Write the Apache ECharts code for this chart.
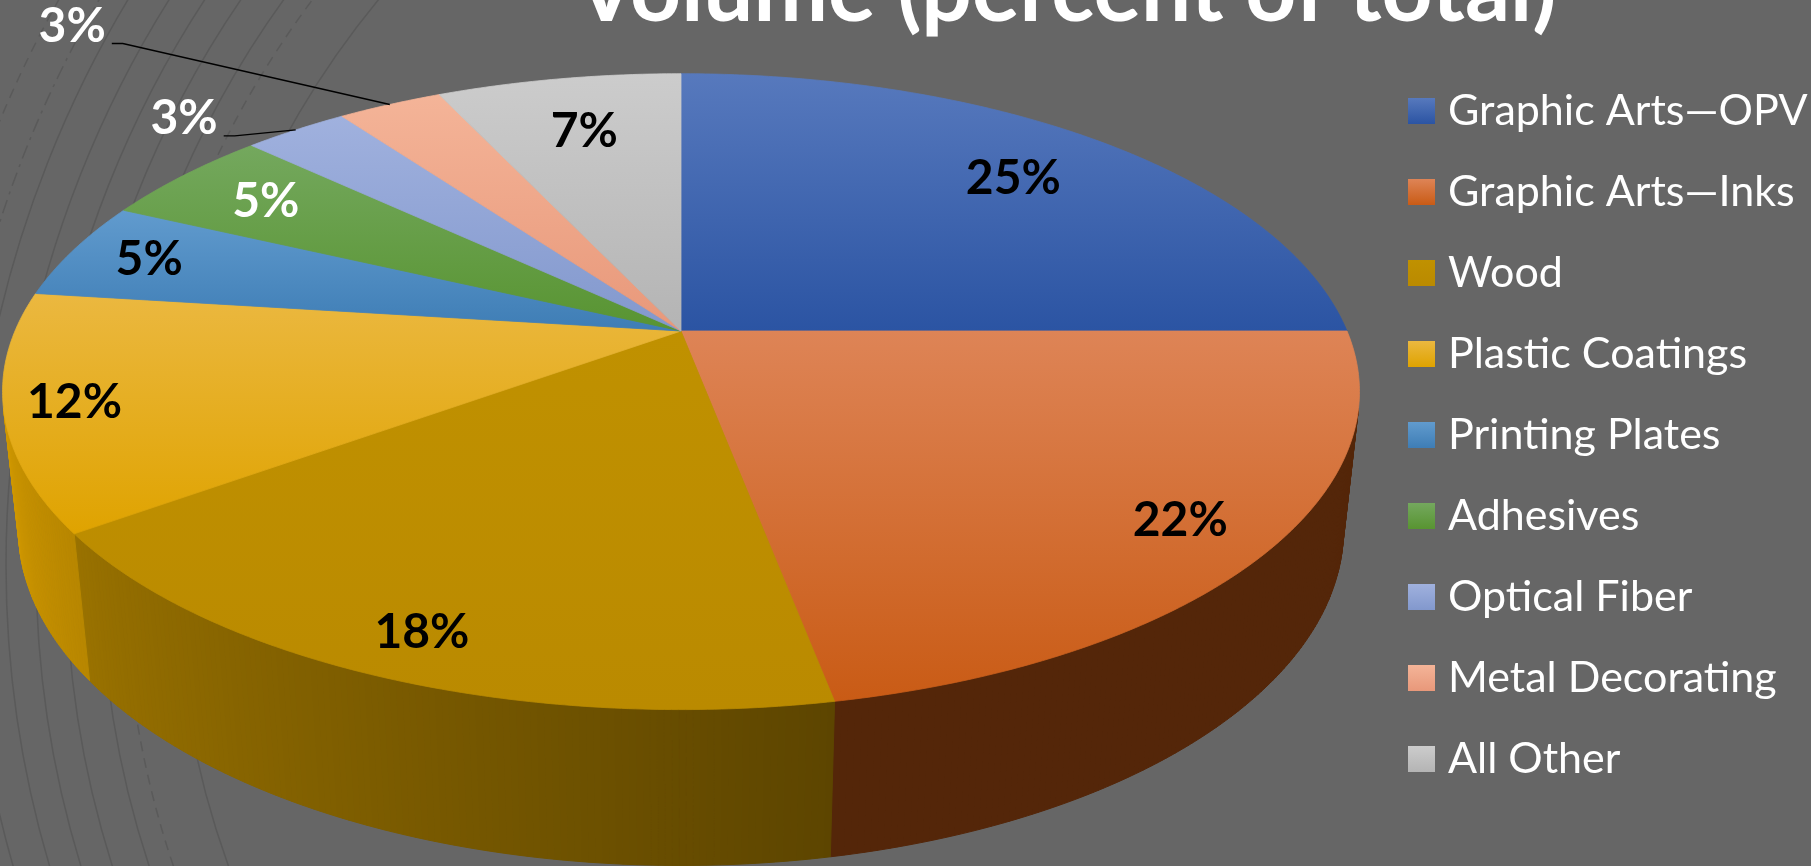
<!DOCTYPE html>
<html>
<head>
<meta charset="utf-8">
<script src="https://cdn.jsdelivr.net/npm/echarts@6/dist/echarts.min.js"></script>
<style>
  html, body { margin: 0; padding: 0; background: #666666; }
  #chart { width: 1811px; height: 866px; }
</style>
</head>
<body>
<div id="chart"></div>
<script>
// ---- data ----
const categories = [
  'Graphic Arts—OPV', 'Graphic Arts—Inks', 'Wood', 'Plastic Coatings',
  'Printing Plates', 'Adhesives', 'Optical Fiber', 'Metal Decorating', 'All Other'
];
const shares = [25, 22, 18, 12, 5, 5, 3, 3, 7];
const titleText = 'Volume (percent of total)';

// ---- styling ----
const faceColors = [
  ['#5779BD', '#2B54A3'],
  ['#DE8456', '#C95B15'],
  ['#C09100', '#BA8A00'],
  ['#EBB840', '#DFA300'],
  ['#619BCE', '#3E7DB5'],
  ['#74A85E', '#589431'],
  ['#A0B1DE', '#8298CD'],
  ['#F4B498', '#E8987A'],
  ['#CCCCCC', '#B4B4B4']
];
const labelInk = ['#000', '#000', '#000', '#000', '#000', '#fff', '#fff', '#fff', '#000'];
// how far out along the slice bisector each inside label sits (fraction of radius)
const labelReach = [0.78, 0.87, 0.89, 0.9, 0.87, 0.82, 1, 1, 0.76];
// callout labels: offset of the label's right edge / middle from the rim point
const callouts = { 6: [-78, -11], 7: [-284, -78] };

// ---- disc geometry (tilted cylinder seen in perspective) ----
const DISC = { cx: 681, cy: 331, r: 666, depth: 156, eye: 3100 };
const sinT = 0.46, cosT = Math.sqrt(1 - sinT * sinT);
const TAU = Math.PI * 2;
const total = shares.reduce((a, b) => a + b, 0);
const starts = [];
shares.reduce((acc, v) => { starts.push(acc); return acc + v; }, 0);

// phi: clockwise from 12 o'clock, reach: fraction of radius, z: 0 top, negative down
function project(phi, reach, z) {
  const u = reach * DISC.r * Math.sin(phi);
  const v = reach * DISC.r * Math.cos(phi);
  const s = v * sinT + z * cosT;
  const w = -v * cosT + z * sinT;
  const k = DISC.eye / (DISC.eye - w);
  return [DISC.cx + u * k, DISC.cy - s * k];
}
const visC = DISC.r / (DISC.eye * cosT);
const visFrom = Math.acos(-visC);
const visTo = TAU - visFrom;

function shade(hex, f) {
  const n = parseInt(hex.slice(1), 16);
  const r = Math.round(((n >> 16) & 255) * f);
  const g = Math.round(((n >> 8) & 255) * f);
  const b = Math.round((n & 255) * f);
  return 'rgb(' + r + ',' + g + ',' + b + ')';
}
// wall brightness: deep shadow on the right-front, lit toward the left
function wallLight(phi) {
  const d = phi * 180 / Math.PI;
  if (d < 169.2) return 0.42;
  return Math.min(0.95, 0.5 + (d - 169.2) / 88 * 0.44);
}
function faceGradient(i) {
  return new echarts.graphic.LinearGradient(0, 0, 0, 1, [
    { offset: 0, color: faceColors[i][0] },
    { offset: 1, color: faceColors[i][1] }
  ]);
}

function renderSlice(i) {
  return function (params, api) {
    const value = api.value(0);
    const a0 = starts[i] / total * TAU;
    const a1 = (starts[i] + value) / total * TAU;
    const children = [];
    const step = Math.PI / 360;

    // outer wall, front-facing part only
    const w0 = Math.max(a0, visFrom), w1 = Math.min(a1, visTo);
    if (w1 > w0) {
      const n = Math.max(1, Math.ceil((w1 - w0) / step));
      for (let j = 0; j < n; j++) {
        const p = w0 + (w1 - w0) * j / n;
        const q = w0 + (w1 - w0) * (j + 1) / n;
        const col = shade(faceColors[i][1], wallLight((p + q) / 2));
        children.push({
          type: 'polygon', z2: 1,
          shape: { points: [project(p, 1, 0), project(q, 1, 0), project(q, 1, -DISC.depth), project(p, 1, -DISC.depth)] },
          style: { fill: col, stroke: col, lineWidth: 1 }
        });
      }
    }

    // top face
    const pts = [project(0, 0, 0)];
    const m = Math.max(2, Math.ceil((a1 - a0) / step));
    for (let j = 0; j <= m; j++) pts.push(project(a0 + (a1 - a0) * j / m, 1, 0));
    const grad = faceGradient(i);
    children.push({
      type: 'polygon', z2: 10,
      shape: { points: pts },
      style: { fill: grad, stroke: grad, lineWidth: 0.8 }
    });

    // value label
    const mid = (a0 + a1) / 2;
    const font = 'bold 48px Lato';
    const text = value + '%';
    if (callouts[i]) {
      const anchor = project(mid, labelReach[i], 0);
      const rx = anchor[0] + callouts[i][0];
      const cy = anchor[1] + callouts[i][1];
      children.push({
        type: 'polyline', z2: 20,
        shape: { points: [anchor, [rx + 17, cy + 17], [rx + 6, cy + 17]] },
        style: { stroke: '#000', lineWidth: 1.3, fill: null }
      });
      children.push({
        type: 'text', z2: 30, x: rx, y: cy,
        style: { text: text, fill: labelInk[i], font: font, align: 'right', verticalAlign: 'middle' }
      });
    } else {
      const c = project(mid, labelReach[i], 0);
      children.push({
        type: 'text', z2: 30, x: c[0], y: c[1],
        style: { text: text, fill: labelInk[i], font: font, align: 'center', verticalAlign: 'middle' }
      });
    }
    return { type: 'group', children: children };
  };
}

// faint concentric rings of the backdrop
const ringCenter = [1066, 565];
const rings = [
  { r: 890, dash: null }, { r: 942, dash: [10, 7] }, { r: 965, dash: null },
  { r: 1000, dash: null }, { r: 1030, dash: null }, { r: 1060, dash: null },
  { r: 1095, dash: null }, { r: 1120, dash: [14, 6, 3, 6] }, { r: 1155, dash: [10, 7] }
];

const chart = echarts.init(document.getElementById('chart'), null, { renderer: 'canvas' });
chart.setOption({
  backgroundColor: '#666666',
  animation: false,
  graphic: [
    ...rings.map(g => ({
      type: 'arc', z: 0, silent: true,
      shape: { cx: ringCenter[0], cy: ringCenter[1], r: g.r, startAngle: Math.PI / 2, endAngle: Math.PI * 1.5, clockwise: true },
      style: { stroke: '#5a5a5a', lineWidth: 1.5, fill: null, lineDash: g.dash }
    })),
    {
      type: 'text', z: 5, x: 1066, y: -8, silent: true,
      style: { text: titleText, fill: '#ffffff', font: 'bold 89px Lato', align: 'center', verticalAlign: 'middle' }
    }
  ],
  legend: {
    orient: 'vertical',
    left: 1403,
    top: 83,
    itemWidth: 27,
    itemHeight: 26,
    itemGap: 35,
    icon: 'rect',
    selectedMode: false,
    data: categories,
    textStyle: { color: '#ffffff', fontFamily: 'Lato', fontSize: 43, lineHeight: 46, padding: [0, 0, 0, 8] }
  },
  series: categories.map((name, i) => ({
    type: 'custom',
    name: name,
    coordinateSystem: 'none',
    silent: true,
    itemStyle: { color: faceGradient(i) },
    data: [shares[i]],
    renderItem: renderSlice(i)
  }))
});
</script>
</body>
</html>
